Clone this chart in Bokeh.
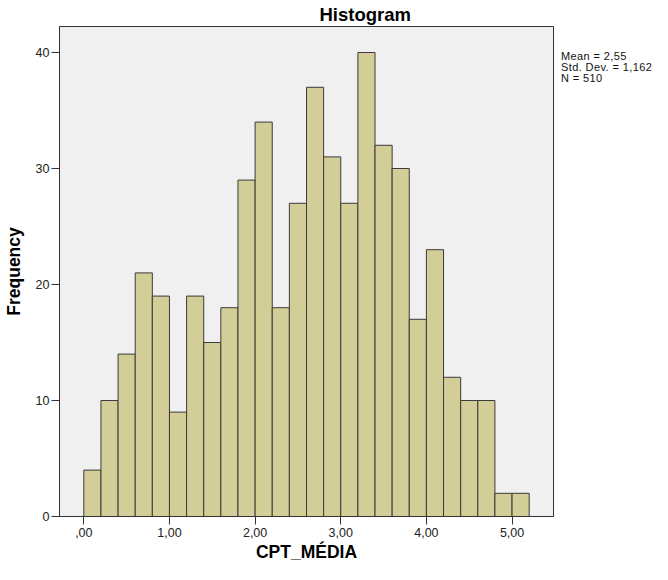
from bokeh.plotting import figure
from bokeh.models import Range1d, FixedTicker, CustomJSTickFormatter, ColumnDataSource, Div
from bokeh.layouts import row
from bokeh.embed import file_html
from bokeh.resources import INLINE

# Histogram data: bins of width 0.2 starting at 0
bin_starts = [round(i * 0.2, 2) for i in range(26)]
bin_width = 0.2
counts = [4, 10, 14, 21, 19, 9, 19, 15, 18, 29, 34, 18, 27, 37, 31, 27, 40, 32, 30, 17, 23, 12, 10, 10, 2, 2]
x_ticks = [0, 1, 2, 3, 4, 5]
y_ticks = [0, 10, 20, 30, 40]
stats_lines = ["Mean = 2,55", "Std. Dev. = 1,162", "N = 510"]

FONT = "Liberation Sans"

src = ColumnDataSource(dict(
    left=bin_starts,
    right=[b + bin_width for b in bin_starts],
    top=counts,
    bottom=[0] * len(counts),
))

p = figure(output_backend="svg", toolbar_location=None,
           frame_width=494, frame_height=490,
           min_border_left=57, min_border_right=8, min_border_top=25, min_border_bottom=49,
           x_range=Range1d(-0.284, 5.484), y_range=Range1d(0, 42.24),
           title="Histogram")

p.quad(left="left", right="right", top="top", bottom="bottom", source=src,
       fill_color="#D3CE97", line_color="#3A3A3A", line_width=1)

p.background_fill_color = "#F0F0F0"
p.border_fill_color = "white"
p.outline_line_color = "#333333"
p.outline_line_width = 1
p.xgrid.visible = False
p.ygrid.visible = False

p.title.align = "left"
p.title.offset = 260
p.title.standoff = 3
p.title.text_font = FONT
p.title.text_font_size = "18.5px"
p.title.text_font_style = "bold"
p.title.text_color = "#000000"

for ax in (p.xaxis[0], p.yaxis[0]):
    ax.major_label_text_font = FONT
    ax.major_label_text_font_size = "12.5px"
    ax.major_label_text_color = "#222222"
    ax.axis_label_text_font = FONT
    ax.axis_label_text_font_size = "17.5px"
    ax.axis_label_text_font_style = "bold"
    ax.axis_label_text_color = "#000000"
    ax.minor_tick_line_color = None
    ax.major_tick_in = 0
    ax.major_tick_out = 8
    ax.major_tick_line_color = "#333333"
    ax.axis_line_color = "#333333"

p.xaxis[0].ticker = FixedTicker(ticks=x_ticks)
p.yaxis[0].ticker = FixedTicker(ticks=y_ticks)
p.xaxis[0].formatter = CustomJSTickFormatter(code="""
let s = tick.toFixed(2).replace('.', ',');
if (s.startsWith('0')) { s = s.slice(1); }
return s;
""")
p.xaxis[0].axis_label = "CPT_MÉDIA"
p.yaxis[0].axis_label = "Frequency"
p.xaxis[0].major_label_standoff = 3
p.yaxis[0].major_label_standoff = 2
p.xaxis[0].axis_label_standoff = 2
p.yaxis[0].axis_label_standoff = 9

stats = Div(text="<br>".join(stats_lines), width=93, height=60,
            margin=(51, 0, 0, 0),
            styles={"font-family": FONT, "font-size": "11px", "line-height": "11px",
                    "letter-spacing": "0.4px",
                    "color": "#111111", "white-space": "nowrap"})

layout = row(p, stats, spacing=0)

open("out.html", "w").write(file_html(layout, INLINE))
